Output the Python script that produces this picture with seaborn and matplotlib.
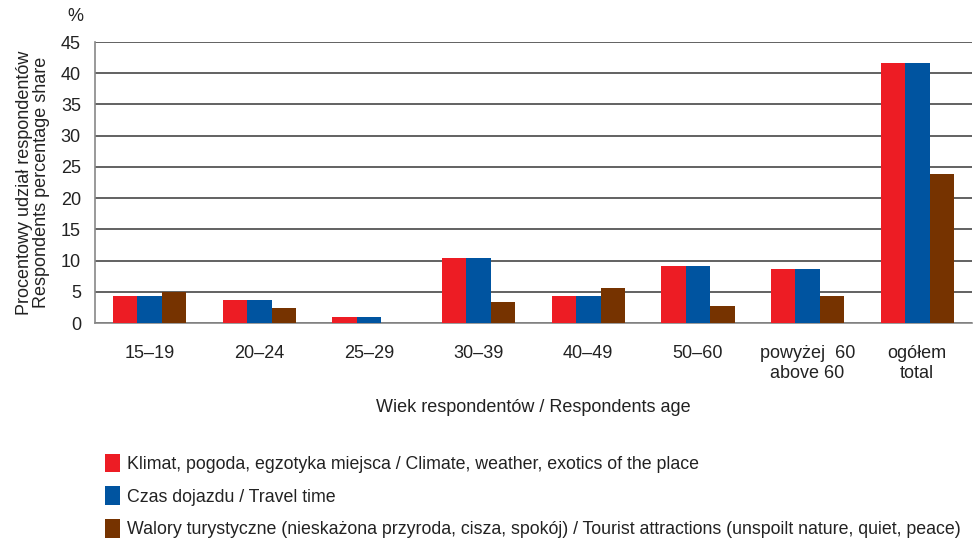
import pandas as pd
import seaborn as sns
import matplotlib.pyplot as plt
from matplotlib.patches import Patch

# --- DATA ---
age_groups = ["15–19", "20–24", "25–29", "30–39", "40–49", "50–60",
              "powyżej  60\nabove 60", "ogółem\ntotal"]
climate = [4.4, 3.7, 0.9, 10.4, 4.4, 9.2, 8.6, 41.6]
travel = [4.4, 3.7, 0.9, 10.4, 4.4, 9.2, 8.6, 41.6]
attractions = [5.0, 2.4, 0.0, 3.4, 5.6, 2.7, 4.4, 23.9]

series_names = [
    "Klimat, pogoda, egzotyka miejsca / Climate, weather, exotics of the place",
    "Czas dojazdu / Travel time",
    "Walory turystyczne (nieskażona przyroda, cisza, spokój) / Tourist attractions (unspoilt nature, quiet, peace)",
]
colors = ["#ED1C24", "#0054A0", "#763300"]


def build_frame():
    rows = []
    for name, vals in zip(series_names, [climate, travel, attractions]):
        for g, v in zip(age_groups, vals):
            rows.append({"age": g, "share": v, "series": name})
    return pd.DataFrame(rows)


def main():
    df = build_frame()
    sns.set_style("white")
    plt.rcParams['font.family'] = ['Liberation Sans Narrow', 'Liberation Sans', 'DejaVu Sans']
    fs = 13

    fig = plt.figure(figsize=(9.77, 5.42), dpi=100)
    ax = fig.add_axes([0.097, 0.404, 0.898, 0.5185])

    sns.barplot(data=df, x="age", y="share", hue="series", palette=colors,
                hue_order=series_names, order=age_groups, width=0.67,
                saturation=1, legend=False, ax=ax, zorder=3, linewidth=0,
                edgecolor="none")

    ax.set_ylim(0, 45)
    ax.set_yticks(range(0, 46, 5))
    ax.set_xlim(-0.5, len(age_groups) - 0.5)
    ax.yaxis.grid(True, color="#555555", linewidth=1.3, zorder=0)
    ax.xaxis.grid(False)
    ax.set_axisbelow(True)
    for side in ["top", "right"]:
        ax.spines[side].set_visible(False)
    for side in ["left", "bottom"]:
        ax.spines[side].set_color("#888888")
        ax.spines[side].set_linewidth(1.2)
    ax.tick_params(axis="x", length=0, labelsize=fs, colors="#222222", pad=16)
    ax.tick_params(axis="y", length=0, labelsize=fs, colors="#222222", pad=10)

    ax.set_xlabel("Wiek respondentów / Respondents age", fontsize=fs, color="#222222", labelpad=12)
    ax.set_ylabel("Procentowy udział respondentów\nRespondents percentage share",
                  fontsize=fs, color="#222222", labelpad=8, linespacing=1.0)
    fig.text(0.077, 0.97, "%", fontsize=fs, color="#222222", ha="center", va="center")

    handles = [Patch(facecolor=c, edgecolor="none") for c in colors]
    fig.legend(handles, series_names, loc="upper left", bbox_to_anchor=(0.107, 0.163),
               frameon=False, fontsize=12.8, handlelength=0.85, handleheight=1.25,
               handletextpad=0.4, labelspacing=0.75, borderaxespad=0, borderpad=0,
               labelcolor="#222222")

    fig.savefig("out.png", dpi=100)


if __name__ == "__main__":
    main()
